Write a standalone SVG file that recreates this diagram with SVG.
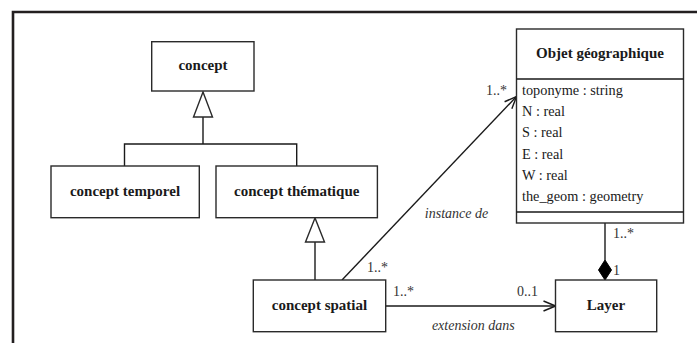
<svg xmlns="http://www.w3.org/2000/svg" width="697" height="343" viewBox="0 0 697 343">
<style>
.box{fill:#fff;stroke:#2a2a2a;stroke-width:1.4}
.ln{fill:none;stroke:#1a1a1a;stroke-width:1.4}
.t{font-family:"Liberation Serif","Times New Roman",serif;font-weight:bold;font-size:15px;fill:#1a1a1a;text-anchor:middle}
.a{font-family:"Liberation Serif","Times New Roman",serif;font-size:14.3px;fill:#1a1a1a}
.m{font-family:"Liberation Serif","Times New Roman",serif;font-size:14px;fill:#333}
.i{font-family:"Liberation Serif","Times New Roman",serif;font-style:italic;font-size:14px;fill:#333;text-anchor:middle}
</style>
<defs>
<marker id="open" viewBox="0 0 14 12" refX="13" refY="6" markerWidth="14" markerHeight="12" markerUnits="userSpaceOnUse" orient="auto">
<path d="M1,1 L13,6 L1,11" fill="none" stroke="#1a1a1a" stroke-width="1.4"/>
</marker>
</defs>
<path d="M13,343 V12 H697" fill="none" stroke="#231f20" stroke-width="2.6"/>
<g id="connectors">
<path class="ln" d="M203,144 V117 M124.5,166 V144 H296.7 V166"/>
<polygon points="203,92 193.5,117 212.5,117" class="box"/>
<path class="ln" d="M315,280 V242"/>
<polygon points="315,218 305.5,242 324.5,242" class="box"/>
<path class="ln" d="M342,280 L516.5,96.5" marker-end="url(#open)"/>
<path class="ln" d="M385.7,306 L555.5,306" marker-end="url(#open)"/>
<path class="ln" d="M605,223 V260"/>
<polygon points="605,260 611.5,270 605,280 598.5,270" fill="#000" stroke="#000" stroke-width="1"/>
<text class="m" x="507" y="95" text-anchor="end">1..*</text>
<text class="m" x="367" y="272">1..*</text>
<text class="i" x="456.5" y="218">instance de</text>
<text class="m" x="393" y="296">1..*</text>
<text class="m" x="517" y="296">0..1</text>
<text class="i" x="473.3" y="330">extension dans</text>
<text class="m" x="613" y="238">1..*</text>
<text class="m" x="613" y="275">1</text>
</g>
<g id="concept">
<rect class="box" x="151.7" y="41.7" width="102.3" height="49.3"/>
<text class="t" x="203" y="70">concept</text>
</g>
<g id="concept-temporel">
<rect class="box" x="51" y="166" width="148.3" height="51.7"/>
<text class="t" x="125" y="196">concept temporel</text>
</g>
<g id="concept-thematique">
<rect class="box" x="216" y="166" width="161.4" height="51.7"/>
<text class="t" x="296.7" y="196">concept thématique</text>
</g>
<g id="concept-spatial">
<rect class="box" x="253.3" y="280" width="132.4" height="51.7"/>
<text class="t" x="319.5" y="310">concept spatial</text>
</g>
<g id="layer">
<rect class="box" x="555.5" y="280" width="101.2" height="51.7"/>
<text class="t" x="606" y="310">Layer</text>
</g>
<g id="objet-geographique">
<rect class="box" x="516.5" y="29" width="167" height="194"/>
<path class="ln" d="M516.5,79 H683.5 M516.5,212 H683.5"/>
<text class="t" x="600" y="58">Objet géographique</text>
<text class="a" x="522" y="95">toponyme : string</text>
<text class="a" x="522" y="116">N : real</text>
<text class="a" x="522" y="137">S : real</text>
<text class="a" x="522" y="159">E : real</text>
<text class="a" x="522" y="180">W : real</text>
<text class="a" x="522" y="201">the_geom : geometry</text>
</g>
</svg>
